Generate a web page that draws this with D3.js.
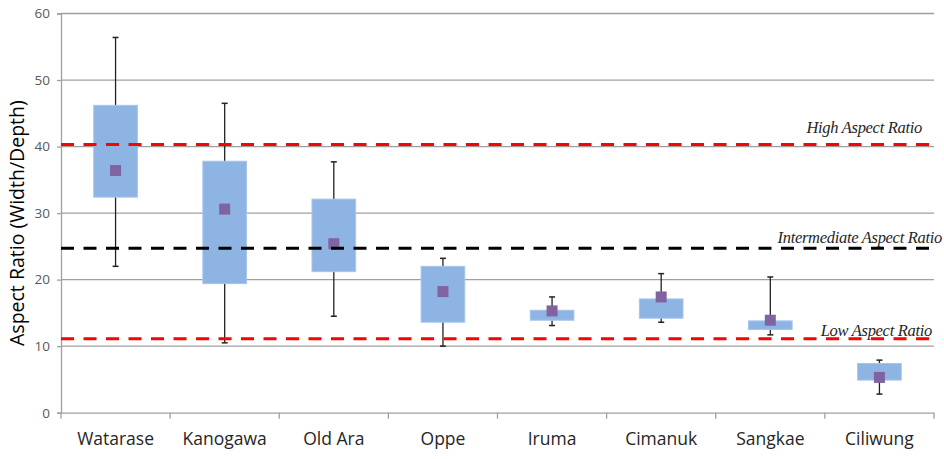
<!DOCTYPE html>
<html>
<head>
<meta charset="utf-8">
<script src="https://cdn.jsdelivr.net/npm/d3@7"></script>
<style>
  body { margin: 0; background: #fff; }
  svg { display: block; }
</style>
</head>
<body>
<div id="chart"></div>
<script>
// data
const rivers = ["Watarase", "Kanogawa", "Old Ara", "Oppe", "Iruma", "Cimanuk", "Sangkae", "Ciliwung"];
const whiskerHigh = [56.4, 46.5, 37.7, 23.2, 17.4, 20.9, 20.4, 7.9];
const boxHigh = [46.2, 37.8, 32.1, 22.0, 15.4, 17.1, 13.8, 7.4];
const boxLow = [32.4, 19.4, 21.2, 13.6, 13.9, 14.2, 12.5, 4.9];
const whiskerLow = [22.0, 10.5, 14.5, 10.0, 13.1, 13.6, 11.7, 2.8];
const means = [36.4, 30.6, 25.4, 18.2, 15.3, 17.4, 13.9, 5.3];
const yTicks = [0, 10, 20, 30, 40, 50, 60];
const refNames = ["High Aspect Ratio", "Intermediate Aspect Ratio", "Low Aspect Ratio"];
const refValues = [40.3, 24.7, 11.1];
const refColors = ["#ff0000", "#000000", "#ff0000"];

const W = 944, H = 459;
const margin = {top: 13.5, right: 10, bottom: 46.3, left: 61};
const width = 934 - margin.left;
const height = H - margin.top - margin.bottom;

const svg = d3.select("#chart")
    .append("svg")
    .attr("width", W)
    .attr("height", H)
    .append("g")
    .attr("transform", `translate(${margin.left}, ${margin.top})`);

const x = d3.scaleBand().domain(rivers).range([0, width]);
const y = d3.scaleLinear().domain([0, 60]).range([height, 0]);

// grid
svg.append("g")
    .selectAll("line")
    .data(yTicks.filter(d => d > 0))
    .enter()
    .append("line")
    .attr("x1", 0)
    .attr("x2", width)
    .attr("y1", d => y(d))
    .attr("y2", d => y(d))
    .attr("stroke", "#a0a0a0")
    .attr("stroke-width", 1.3);

// y axis
const yAxis = svg.append("g")
    .call(d3.axisLeft(y).tickValues(yTicks).tickSize(4).tickPadding(7));
yAxis.select(".domain").attr("stroke", "#a0a0a0").attr("stroke-width", 1.3);
yAxis.selectAll(".tick line").attr("stroke", "#a0a0a0").attr("stroke-width", 1.3);
yAxis.selectAll("text")
    .style("font-family", "'Open Sans', sans-serif")
    .style("font-size", "13.5px")
    .attr("fill", "#595959");

// x axis
const xAxis = svg.append("g")
    .attr("transform", `translate(0, ${height})`)
    .call(d3.axisBottom(x).tickSize(0).tickPadding(20));
xAxis.select(".domain").attr("stroke", "#a0a0a0").attr("stroke-width", 1.3);
xAxis.selectAll("text")
    .style("font-family", "'Open Sans', sans-serif")
    .style("font-size", "17.5px")
    .attr("fill", "#262626");
svg.append("g")
    .selectAll("line")
    .data(rivers.map(d => x(d)).concat([width]))
    .enter()
    .append("line")
    .attr("x1", d => d)
    .attr("x2", d => d)
    .attr("y1", height)
    .attr("y2", height + 6)
    .attr("stroke", "#a0a0a0")
    .attr("stroke-width", 1.3);

// whiskers
const cx = d => x(d) + x.bandwidth() / 2;
const boxes = svg.append("g");
rivers.forEach(function(r, i) {
    const c = cx(r);
    boxes.append("line")
        .attr("x1", c).attr("x2", c)
        .attr("y1", y(whiskerHigh[i])).attr("y2", y(whiskerLow[i]))
        .attr("stroke", "#222").attr("stroke-width", 1.3);
    [whiskerHigh[i], whiskerLow[i]].forEach(function(v) {
        boxes.append("line")
            .attr("x1", c - 3).attr("x2", c + 3)
            .attr("y1", y(v)).attr("y2", y(v))
            .attr("stroke", "#222").attr("stroke-width", 1.5);
    });
});

// boxes
const boxW = x.bandwidth() * 0.4;
boxes.selectAll("rect.box")
    .data(rivers)
    .enter()
    .append("rect")
    .attr("class", "box")
    .attr("x", d => cx(d) - boxW / 2)
    .attr("width", boxW)
    .attr("y", (d, i) => y(boxHigh[i]))
    .attr("height", (d, i) => y(boxLow[i]) - y(boxHigh[i]))
    .attr("fill", "#8db4e2")
    .attr("stroke", "#a7c5ea")
    .attr("stroke-width", 1);

// mean markers
const mk = 11;
boxes.selectAll("rect.mean")
    .data(rivers)
    .enter()
    .append("rect")
    .attr("class", "mean")
    .attr("x", d => cx(d) - mk / 2)
    .attr("y", (d, i) => y(means[i]) - mk / 2)
    .attr("width", mk)
    .attr("height", mk)
    .attr("fill", "#8064a2");

// reference lines
svg.append("g")
    .selectAll("line")
    .data(refValues)
    .enter()
    .append("line")
    .attr("x1", 0)
    .attr("x2", width + 4)
    .attr("y1", d => y(d))
    .attr("y2", d => y(d))
    .attr("stroke", (d, i) => refColors[i])
    .attr("stroke-width", 3)
    .attr("stroke-dasharray", "13,9.5");

svg.append("g")
    .selectAll("text")
    .data(refNames)
    .enter()
    .append("text")
    .attr("x", (d, i) => [922, 942, 932][i] - margin.left)
    .attr("y", (d, i) => y(refValues[i]) - [12, 5, 3][i])
    .attr("text-anchor", "end")
    .style("font-family", "'Liberation Serif', serif")
    .style("font-style", "italic")
    .style("font-size", "16.5px")
    .style("letter-spacing", "-0.3px")
    .attr("fill", "#262626")
    .text(d => d);

// y title
svg.append("text")
    .attr("transform", `translate(${24 - margin.left}, ${height / 2 + 10}) rotate(-90)`)
    .attr("text-anchor", "middle")
    .style("font-family", "'Open Sans', sans-serif")
    .style("font-size", "19.5px")
    .attr("fill", "#000")
    .text("Aspect Ratio (Width/Depth)");
</script>
</body>
</html>
